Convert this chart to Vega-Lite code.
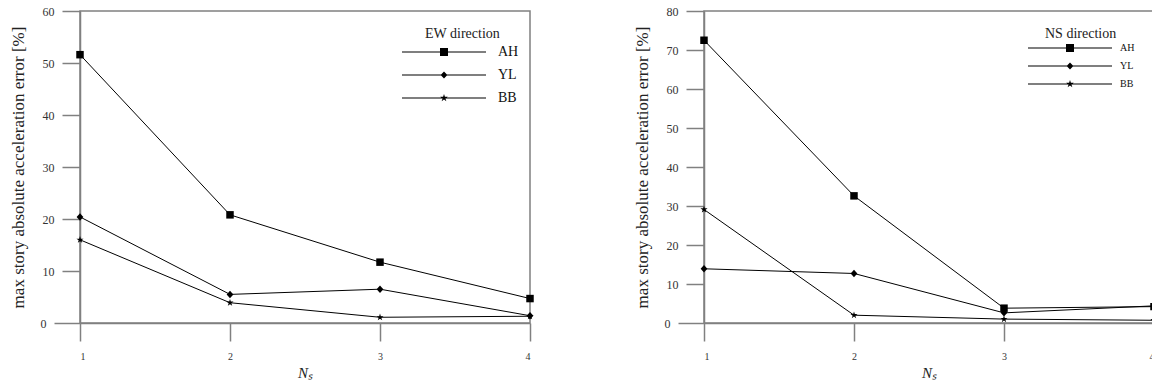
{
  "$schema": "https://vega.github.io/schema/vega-lite/v6.json",
  "padding": {"left": 8, "top": 4, "right": 0, "bottom": 0},
  "background": "white",
  "spacing": 97,
  "datasets": {
    "ew": [
      {"method": "AH", "ns": 1, "err": 51.6}, {"method": "AH", "ns": 2, "err": 20.8}, {"method": "AH", "ns": 3, "err": 11.7}, {"method": "AH", "ns": 4, "err": 4.7},
      {"method": "YL", "ns": 1, "err": 20.4}, {"method": "YL", "ns": 2, "err": 5.5}, {"method": "YL", "ns": 3, "err": 6.5}, {"method": "YL", "ns": 4, "err": 1.4},
      {"method": "BB", "ns": 1, "err": 16.0}, {"method": "BB", "ns": 2, "err": 3.9}, {"method": "BB", "ns": 3, "err": 1.1}, {"method": "BB", "ns": 4, "err": 1.3}
    ],
    "nsd": [
      {"method": "AH", "ns": 1, "err": 72.5}, {"method": "AH", "ns": 2, "err": 32.6}, {"method": "AH", "ns": 3, "err": 3.8}, {"method": "AH", "ns": 4, "err": 4.2},
      {"method": "YL", "ns": 1, "err": 13.9}, {"method": "YL", "ns": 2, "err": 12.7}, {"method": "YL", "ns": 3, "err": 2.6}, {"method": "YL", "ns": 4, "err": 4.4},
      {"method": "BB", "ns": 1, "err": 29.1}, {"method": "BB", "ns": 2, "err": 2.0}, {"method": "BB", "ns": 3, "err": 1.0}, {"method": "BB", "ns": 4, "err": 0.7}
    ]
  },
  "resolve": {"scale": {"y": "independent", "shape": "independent"}, "legend": {"shape": "independent"}},
  "hconcat": [
    {
      "width": 450,
      "height": 312,
      "data": {"name": "ew"},
      "encoding": {
        "x": {"field": "ns", "type": "quantitative", "scale": {"domain": [1, 4]}, "axis": {"values": [1, 2, 3, 4], "format": "d", "title": "Nₛ"}},
        "y": {"field": "err", "type": "quantitative", "scale": {"domain": [0, 60]}, "axis": {"values": [0, 10, 20, 30, 40, 50, 60], "title": "max story absolute acceleration error [%]"}}
      },
      "resolve": {"scale": {"shape": "independent"}, "legend": {"shape": "independent"}},
      "layer": [
        {
          "mark": {"type": "line", "color": "black", "strokeWidth": 1},
          "encoding": {"detail": {"field": "method"}}
        },
        {
          "mark": {"type": "point", "filled": true, "color": "black", "opacity": 1, "size": 56},
          "encoding": {
            "shape": {
              "field": "method", "type": "nominal", "legend": null,
              "scale": {"domain": ["AH", "YL", "BB"], "range": ["M-1,-1H1V1H-1Z", "M0,-1L0.9,0L0,1L-0.9,0Z", "M0,-1L0.223,-0.307L0.951,-0.309L0.361,0.117L0.588,0.809L0,0.38L-0.588,0.809L-0.361,0.117L-0.951,-0.309L-0.223,-0.307Z"]}
            }
          }
        },
        {
          "mark": {"type": "point", "filled": true, "color": "black", "opacity": 0, "size": 0.01},
          "encoding": {
            "shape": {
              "field": "method", "type": "nominal",
              "scale": {"domain": ["AH", "YL", "BB"], "range": ["M-10.5,-0.13H10.5V0.13H-10.5ZM-1,-1H1V1H-1Z", "M-10.5,-0.13H10.5V0.13H-10.5ZM0,-0.9L0.85,0L0,0.9L-0.85,0Z", "M-10.5,-0.13H10.5V0.13H-10.5ZM0,-1L0.223,-0.307L0.951,-0.309L0.361,0.117L0.588,0.809L0,0.38L-0.588,0.809L-0.361,0.117L-0.951,-0.309L-0.223,-0.307Z"]},
              "legend": {
                "title": "EW direction", "orient": "none", "legendX": 345, "legendY": 16, "padding": 0,
                "titleAnchor": "start", "titleAlign": "left", "titleFontSize": 14, "titleFontWeight": "normal", "titleFont": "Liberation Serif", "titleColor": "#222", "titlePadding": 4,
                "labelFontSize": 14, "labelFont": "Liberation Serif", "labelColor": "#111", "labelOffset": 47,
                "symbolOffset": 12,
                "symbolSize": 64, "symbolFillColor": "black", "symbolStrokeColor": "black", "symbolStrokeWidth": 0, "symbolOpacity": 1, "rowPadding": 9
              }
            }
          }
        }
      ]
    },
    {
      "width": 450,
      "height": 312,
      "data": {"name": "nsd"},
      "encoding": {
        "x": {"field": "ns", "type": "quantitative", "scale": {"domain": [1, 4]}, "axis": {"values": [1, 2, 3, 4], "format": "d", "title": "Nₛ"}},
        "y": {"field": "err", "type": "quantitative", "scale": {"domain": [0, 80]}, "axis": {"values": [0, 10, 20, 30, 40, 50, 60, 70, 80], "title": "max story absolute acceleration error [%]"}}
      },
      "resolve": {"scale": {"shape": "independent"}, "legend": {"shape": "independent"}},
      "layer": [
        {
          "mark": {"type": "line", "color": "black", "strokeWidth": 1},
          "encoding": {"detail": {"field": "method"}}
        },
        {
          "mark": {"type": "point", "filled": true, "color": "black", "opacity": 1, "size": 56},
          "encoding": {
            "shape": {
              "field": "method", "type": "nominal", "legend": null,
              "scale": {"domain": ["AH", "YL", "BB"], "range": ["M-1,-1H1V1H-1Z", "M0,-1L0.9,0L0,1L-0.9,0Z", "M0,-1L0.223,-0.307L0.951,-0.309L0.361,0.117L0.588,0.809L0,0.38L-0.588,0.809L-0.361,0.117L-0.951,-0.309L-0.223,-0.307Z"]}
            }
          }
        },
        {
          "mark": {"type": "point", "filled": true, "color": "black", "opacity": 0, "size": 0.01},
          "encoding": {
            "shape": {
              "field": "method", "type": "nominal",
              "scale": {"domain": ["AH", "YL", "BB"], "range": ["M-10.5,-0.13H10.5V0.13H-10.5ZM-1,-1H1V1H-1Z", "M-10.5,-0.13H10.5V0.13H-10.5ZM0,-0.9L0.85,0L0,0.9L-0.85,0Z", "M-10.5,-0.13H10.5V0.13H-10.5ZM0,-1L0.223,-0.307L0.951,-0.309L0.361,0.117L0.588,0.809L0,0.38L-0.588,0.809L-0.361,0.117L-0.951,-0.309L-0.223,-0.307Z"]},
              "legend": {
                "title": "NS direction", "orient": "none", "legendX": 341, "legendY": 16, "padding": 0,
                "titleAnchor": "start", "titleAlign": "left", "titleFontSize": 14, "titleFontWeight": "normal", "titleFont": "Liberation Serif", "titleColor": "#222", "titlePadding": 2,
                "labelFontSize": 10, "labelFont": "Liberation Serif", "labelColor": "#111", "labelOffset": 45,
                "symbolOffset": 20,
                "symbolSize": 64, "symbolFillColor": "black", "symbolStrokeColor": "black", "symbolStrokeWidth": 0, "symbolOpacity": 1, "rowPadding": 8
              }
            }
          }
        }
      ]
    }
  ],
  "config": {
    "font": "Liberation Serif",
    "view": {"stroke": "#808080", "strokeWidth": 1.5},
    "axis": {
      "grid": false,
      "domainColor": "#808080", "domainWidth": 1.5,
      "tickColor": "#808080", "tickWidth": 1.5, "tickSize": 18,
      "labelFont": "Liberation Serif", "labelColor": "#333", "labelFontSize": 12,
      "titleFont": "Liberation Serif", "titleFontWeight": "normal", "titleColor": "#222"
    },
    "axisX": {"labelPadding": 10, "labelFontSize": 10, "titleFontSize": 15, "titleFontStyle": "italic", "titlePadding": 4},
    "axisY": {"labelPadding": 8, "titleFontSize": 17, "titlePadding": 13,
      "tickSize": {"condition": {"test": "datum.value === 0", "value": 26}, "value": 18}}
  }
}
